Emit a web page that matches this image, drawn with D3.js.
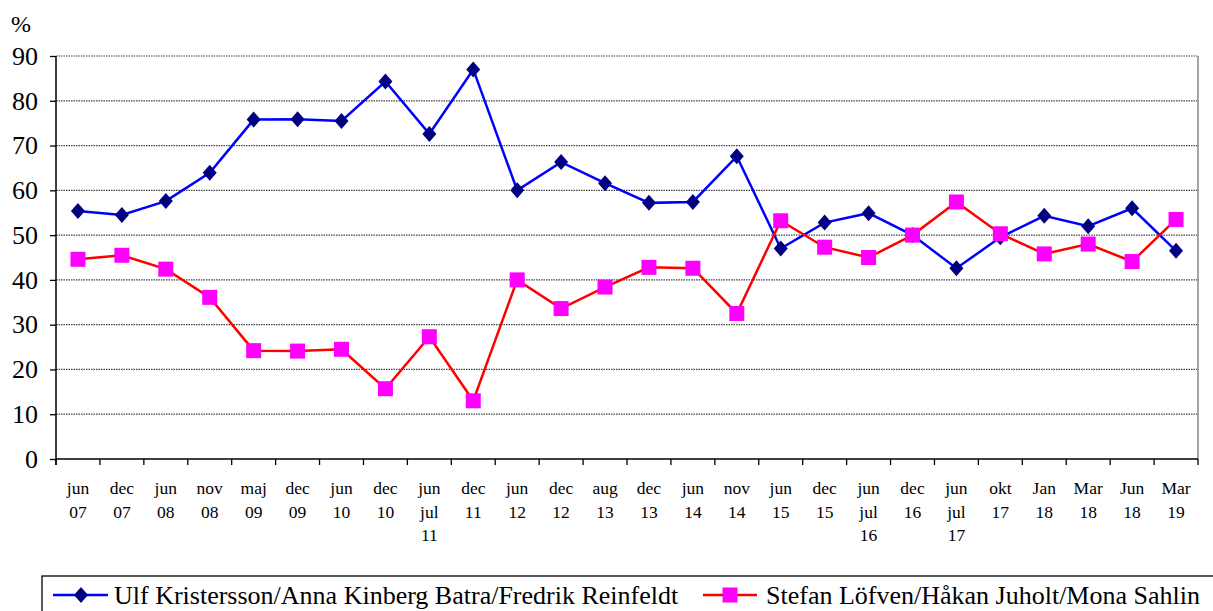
<!DOCTYPE html>
<html>
<head>
<meta charset="utf-8">
<script src="https://cdn.jsdelivr.net/npm/d3@7"></script>
<style>
  body { margin: 0; background: #fff; }
  svg { display: block; }
  svg text { font-family: "Liberation Serif", "Times New Roman", serif; }
</style>
</head>
<body>
<div id="wrapper"></div>
<script>
// data
const periods = [
  ["jun", "07"], ["dec", "07"], ["jun", "08"], ["nov", "08"], ["maj", "09"],
  ["dec", "09"], ["jun", "10"], ["dec", "10"], ["jun", "jul", "11"], ["dec", "11"],
  ["jun", "12"], ["dec", "12"], ["aug", "13"], ["dec", "13"], ["jun", "14"],
  ["nov", "14"], ["jun", "15"], ["dec", "15"], ["jun", "jul", "16"], ["dec", "16"],
  ["jun", "jul", "17"], ["okt", "17"], ["Jan", "18"], ["Mar", "18"], ["Jun", "18"],
  ["Mar", "19"]
];
const blueValues = [55.4, 54.5, 57.6, 63.9, 75.8, 75.9, 75.5, 84.3, 72.6, 87.0,
  60.0, 66.3, 61.6, 57.2, 57.4, 67.6, 47.0, 52.8, 54.9, 50.0,
  42.6, 49.5, 54.3, 52.0, 56.0, 46.5];
const redValues = [44.6, 45.5, 42.4, 36.1, 24.2, 24.1, 24.5, 15.7, 27.3, 13.0,
  40.0, 33.6, 38.4, 42.8, 42.6, 32.5, 53.2, 47.3, 45.0, 50.0,
  57.4, 50.3, 45.8, 48.0, 44.1, 53.5];
const yTicks = [0, 10, 20, 30, 40, 50, 60, 70, 80, 90];
const blueName = "Ulf Kristersson/Anna Kinberg Batra/Fredrik Reinfeldt";
const redName = "Stefan Löfven/Håkan Juholt/Mona Sahlin";

const width = 1213, height = 611;
const dimensions = {
  width: width,
  height: height,
  margin: { top: 56, right: 15, bottom: 152, left: 56 }
};
dimensions.boundedWidth = dimensions.width - dimensions.margin.left - dimensions.margin.right;
dimensions.boundedHeight = dimensions.height - dimensions.margin.top - dimensions.margin.bottom;

const svg = d3.select("#wrapper").append("svg")
  .attr("width", width)
  .attr("height", height);

const bounds = svg.append("g")
  .attr("transform", `translate(${dimensions.margin.left},${dimensions.margin.top})`);

const idx = d3.range(periods.length);
const xScale = d3.scaleBand()
  .domain(idx)
  .range([0, dimensions.boundedWidth]);
const xCenter = i => xScale(i) + xScale.bandwidth() / 2;

const yScale = d3.scaleLinear()
  .domain([0, 90])
  .range([dimensions.boundedHeight, 0]);

// gridlines
bounds.append("g")
  .selectAll("line")
  .data(yTicks.filter(d => d > 0))
  .join("line")
  .attr("x1", 0)
  .attr("x2", dimensions.boundedWidth)
  .attr("y1", d => yScale(d))
  .attr("y2", d => yScale(d))
  .attr("stroke", "#444")
  .attr("stroke-dasharray", "1.5,1")
  .attr("stroke-width", 1.2);

// right border
bounds.append("line")
  .attr("x1", dimensions.boundedWidth).attr("x2", dimensions.boundedWidth)
  .attr("y1", 0).attr("y2", dimensions.boundedHeight)
  .attr("stroke", "#888").attr("stroke-width", 1.5);

// y axis
const yAxis = d3.axisLeft(yScale)
  .tickValues(yTicks)
  .tickSize(6)
  .tickPadding(12)
  .tickFormat(d3.format("d"));
const yAxisG = bounds.append("g").call(yAxis)
  .attr("font-family", null)
  .attr("font-size", null);
yAxisG.select(".domain").attr("stroke", "#000").attr("stroke-width", 1.5)
  .attr("d", `M0,0V${dimensions.boundedHeight + 6}`);
yAxisG.selectAll(".tick line").attr("stroke", "#000").attr("stroke-width", 1.3);
yAxisG.selectAll(".tick text")
  .style("font-size", "26px")
  .attr("fill", "#000");

// x axis: ticks at band boundaries
const xAxisG = bounds.append("g")
  .attr("transform", `translate(0,${dimensions.boundedHeight})`);
xAxisG.append("line")
  .attr("x1", 0).attr("x2", dimensions.boundedWidth)
  .attr("stroke", "#000").attr("stroke-width", 1.5);
xAxisG.selectAll(".xtick")
  .data(d3.range(periods.length + 1))
  .join("line")
  .attr("class", "xtick")
  .attr("x1", i => i < periods.length ? xScale(i) : dimensions.boundedWidth)
  .attr("x2", i => i < periods.length ? xScale(i) : dimensions.boundedWidth)
  .attr("y1", 0).attr("y2", 6)
  .attr("stroke", "#000").attr("stroke-width", 1.3);

const labels = xAxisG.selectAll(".xlabel")
  .data(idx)
  .join("text")
  .attr("class", "xlabel")
  .attr("text-anchor", "middle")
  .style("font-size", "17.5px")
  .attr("fill", "#000")
  .attr("transform", i => `translate(${xCenter(i)},35)`);
labels.selectAll("tspan")
  .data(i => periods[i])
  .join("tspan")
  .attr("x", 0)
  .attr("y", (d, k) => k * 23.5)
  .text(d => d);

// lines
const lineGen = d3.line()
  .x((d, i) => xCenter(i))
  .y(d => yScale(d));

bounds.append("path")
  .datum(blueValues)
  .attr("d", lineGen)
  .attr("fill", "none")
  .attr("stroke", "#0000FF")
  .attr("stroke-width", 2.5);

bounds.append("path")
  .datum(redValues)
  .attr("d", lineGen)
  .attr("fill", "none")
  .attr("stroke", "#FF0000")
  .attr("stroke-width", 2.5);

// markers
const diamond = "M0,-8L7,0L0,8L-7,0Z";
bounds.append("g")
  .selectAll("path")
  .data(blueValues)
  .join("path")
  .attr("d", diamond)
  .attr("transform", (d, i) => `translate(${xCenter(i)},${yScale(d)})`)
  .attr("fill", "#000080");

bounds.append("g")
  .selectAll("rect")
  .data(redValues)
  .join("rect")
  .attr("x", (d, i) => xCenter(i) - 7.5)
  .attr("y", d => yScale(d) - 7.5)
  .attr("width", 15)
  .attr("height", 15)
  .attr("fill", "#FF00FF");

// % unit label
svg.append("text")
  .attr("x", 11).attr("y", 32)
  .style("font-size", "24px")
  .text("%");

// legend
const legend = svg.append("g");
legend.append("rect")
  .attr("x", 42).attr("y", 576)
  .attr("width", 1190).attr("height", 50)
  .attr("fill", "#fff")
  .attr("stroke", "#000").attr("stroke-width", 1.3);

const legendY = 595;
const blueLeg = legend.append("g");
blueLeg.append("line")
  .attr("x1", 53).attr("x2", 108).attr("y1", legendY).attr("y2", legendY)
  .attr("stroke", "#0000FF").attr("stroke-width", 2.5);
blueLeg.append("path")
  .attr("d", diamond)
  .attr("transform", `translate(81,${legendY})`)
  .attr("fill", "#000080");
blueLeg.append("text")
  .attr("x", 114).attr("y", 604)
  .style("font-size", "26px")
  .text(blueName);

const redLeg = legend.append("g");
redLeg.append("line")
  .attr("x1", 703).attr("x2", 757).attr("y1", legendY).attr("y2", legendY)
  .attr("stroke", "#FF0000").attr("stroke-width", 2.5);
redLeg.append("rect")
  .attr("x", 730 - 7.5).attr("y", legendY - 7.5)
  .attr("width", 15).attr("height", 15)
  .attr("fill", "#FF00FF");
redLeg.append("text")
  .attr("x", 766).attr("y", 604)
  .style("font-size", "26px")
  .text(redName);
</script>
</body>
</html>
